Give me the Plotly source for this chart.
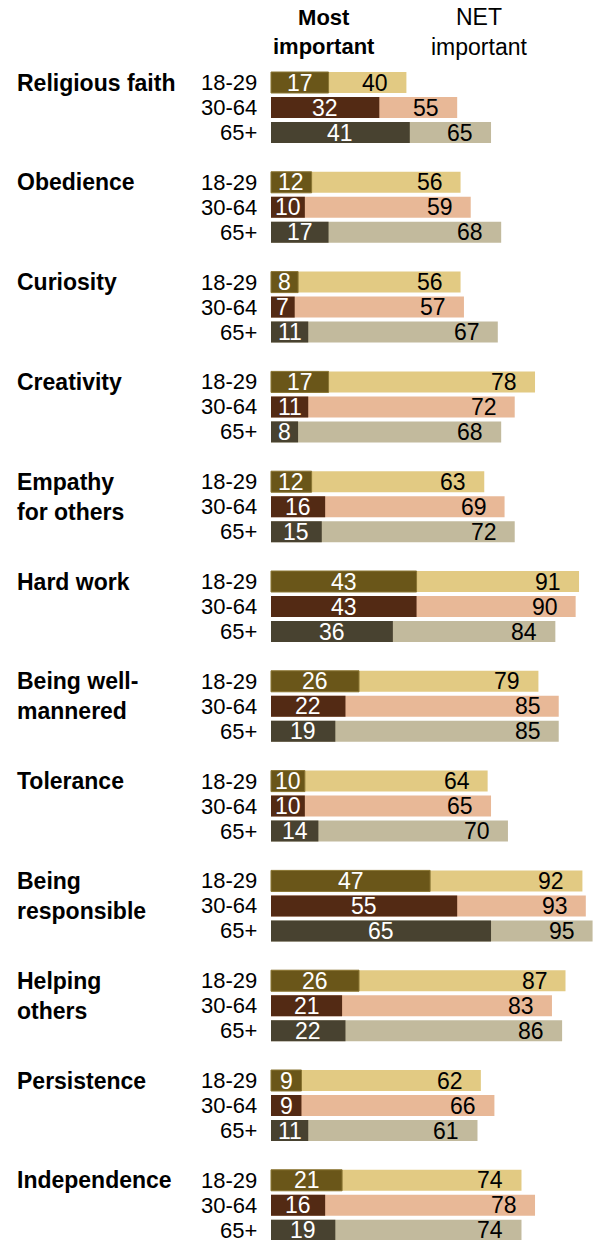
import plotly.graph_objects as go

# Traits and the share of each age group naming them
traits = ["Religious faith", "Obedience", "Curiosity", "Creativity",
          "Empathy<br>for others", "Hard work", "Being well-<br>mannered",
          "Tolerance", "Being<br>responsible", "Helping<br>others",
          "Persistence", "Independence"]
ages = ["18-29", "30-64", "65+"]

most_18_29 = [17, 12, 8, 17, 12, 43, 26, 10, 47, 26, 9, 21]
most_30_64 = [32, 10, 7, 11, 16, 43, 22, 10, 55, 21, 9, 16]
most_65 = [41, 17, 11, 8, 15, 36, 19, 14, 65, 22, 11, 19]

net_18_29 = [40, 56, 56, 78, 63, 91, 79, 64, 92, 87, 62, 74]
net_30_64 = [55, 59, 57, 72, 69, 90, 85, 65, 93, 83, 66, 78]
net_65 = [65, 68, 67, 68, 72, 84, 85, 70, 95, 86, 61, 74]

most = [most_18_29, most_30_64, most_65]
net = [net_18_29, net_30_64, net_65]

dark_colors = ["#6A5619", "#532A14", "#484230"]
light_colors = ["#E2CA83", "#E8B897", "#C2BA9D"]
dark_lines = ["#8A7634", "#532A14", "#484230"]

W, H = 593, 1240
PX = 3.385            # pixels per percentage point
X0 = 271              # pixel where the bars start
FONT = "Liberation Sans, Arial, sans-serif"

def row_y(g, r):
    return 82.5 + 99.8 * g + 25.0 * r

fig = go.Figure()

for r in range(3):
    ys = [row_y(g, r) for g in range(len(traits))]
    fig.add_trace(go.Bar(
        x=net[r], y=ys, orientation="h", width=21,
        marker=dict(color=light_colors[r], line=dict(width=0)),
        hoverinfo="skip", showlegend=False))
    fig.add_trace(go.Bar(
        x=most[r], y=ys, orientation="h", width=21,
        marker=dict(color=dark_colors[r],
                    line=dict(width=1 if r == 0 else 0, color=dark_lines[r])),
        hoverinfo="skip", showlegend=False))

annotations = []
for g, name in enumerate(traits):
    annotations.append(dict(
        x=15 / W, xref="paper", y=row_y(g, 0) - 15, yref="y",
        xanchor="left", yanchor="top", align="left",
        text="<b>" + name + "</b>", showarrow=False,
        font=dict(family=FONT, size=23, color="#000000")))
    for r, age in enumerate(ages):
        y = row_y(g, r)
        annotations.append(dict(
            x=259 / W, xref="paper", y=y, yref="y",
            xanchor="right", yanchor="middle", text=age, showarrow=False,
            font=dict(family=FONT, size=22, color="#000000")))
        annotations.append(dict(
            x=most[r][g] / 2, xref="x", y=y, yref="y",
            xanchor="center", yanchor="middle", text=str(most[r][g]),
            showarrow=False,
            font=dict(family=FONT, size=23, color="#FFFFFF")))
        annotations.append(dict(
            x=net[r][g], xref="x", y=y, yref="y", xshift=-16,
            xanchor="right", yanchor="middle", text=str(net[r][g]),
            showarrow=False,
            font=dict(family=FONT, size=23, color="#000000")))

annotations.append(dict(
    x=324 / W, xref="paper", y=32, yref="y", xanchor="center",
    yanchor="middle", text="<b>Most<br>important</b>", showarrow=False,
    font=dict(family=FONT, size=22, color="#000000")))
annotations.append(dict(
    x=479 / W, xref="paper", y=32, yref="y", xanchor="center",
    yanchor="middle", text="NET<br>important", showarrow=False,
    font=dict(family=FONT, size=23, color="#000000")))

fig.update_layout(
    width=W, height=H, barmode="overlay",
    margin=dict(l=0, r=0, t=0, b=0),
    paper_bgcolor="#FFFFFF", plot_bgcolor="#FFFFFF",
    xaxis=dict(range=[-X0 / PX, (W - X0) / PX], visible=False, fixedrange=True),
    yaxis=dict(range=[H, 0], visible=False, fixedrange=True),
    annotations=annotations,
)

fig.write_html("out.html", config={"displayModeBar": False})
